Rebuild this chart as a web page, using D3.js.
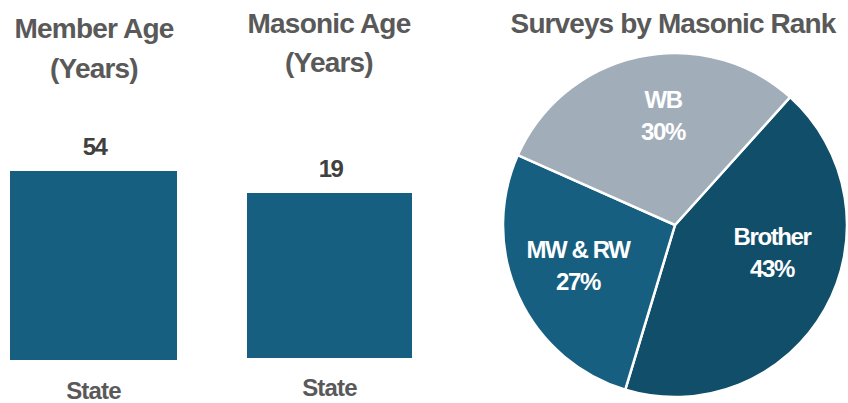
<!DOCTYPE html>
<html><head><meta charset="utf-8">
<script src="https://cdn.jsdelivr.net/npm/d3@7"></script>
<style>
body{margin:0;background:#fff;}
svg{display:block;font-family:"Liberation Sans",Arial,sans-serif;font-weight:bold;}
</style></head>
<body><svg id="c" width="848" height="403"></svg>
<script>
const barTitles = [["Member Age","(Years)"],["Masonic Age","(Years)"]];
const barCategories = ["State"];
const memberAge = [54];
const masonicAge = [19];
const pieTitle = "Surveys by Masonic Rank";
const rankLabels = ["Brother","MW & RW","WB"];
const rankValues = [43,27,30];
const rankColors = ["#114e6a","#175f80","#a1aeb9"];

const svg = d3.select("#c");
const gray = "#595959";

// bar panels
const panels = [
  {vals:memberAge, title:barTitles[0], x0:10, x1:177, top:171, bottom:360, tx:94, ty:[38,78], lab:399, max:54},
  {vals:masonicAge, title:barTitles[1], x0:247, x1:412, top:193, bottom:358, tx:329, ty:[33,72], lab:396, max:19}
];
panels.forEach(p=>{
  const x = d3.scaleBand().domain(barCategories).range([p.x0,p.x1]).padding(0);
  const y = d3.scaleLinear().domain([0,p.max]).range([p.bottom,p.top]);
  const g = svg.append("g");
  g.selectAll("rect").data(p.vals).join("rect")
    .attr("x",(d,i)=>x(barCategories[i])).attr("width",x.bandwidth())
    .attr("y",d=>y(d)).attr("height",d=>p.bottom-y(d)).attr("fill","#175f80");
  g.selectAll("text.v").data(p.vals).join("text").attr("class","v")
    .attr("x",(d,i)=>x(barCategories[i])+x.bandwidth()/2+1).attr("y",d=>y(d)-16)
    .attr("text-anchor","middle").attr("font-size",24).attr("letter-spacing",-1.5).attr("fill","#404040").text(d=>d);
  g.selectAll("text.c").data(barCategories).join("text").attr("class","c")
    .attr("x",d=>x(d)+x.bandwidth()/2).attr("y",p.lab)
    .attr("text-anchor","middle").attr("font-size",24).attr("letter-spacing",-0.8).attr("fill",gray).text(d=>d);
  p.title.forEach((t,i)=>g.append("text").attr("x",p.tx).attr("y",p.ty[i])
    .attr("text-anchor","middle").attr("font-size",28).attr("letter-spacing",-0.8).attr("fill",gray).text(t));
});

// pie
const cx=675, cy=225, r=172;
const start = 42*Math.PI/180;
const pie = d3.pie().sort(null).startAngle(start).endAngle(start+2*Math.PI);
const arcs = pie(rankValues);
const arc = d3.arc().innerRadius(0).outerRadius(r);
const pg = svg.append("g").attr("transform",`translate(${cx},${cy})`);
pg.selectAll("path").data(arcs).join("path").attr("d",arc)
  .attr("fill",(d,i)=>rankColors[i]).attr("stroke","#fff").attr("stroke-width",2.5);
// label placement relative to pie centre: [dx, baseline1, baseline2]
const labelPos = [[97,20,52],[-97,33,65],[-12,-117,-85]];
pg.selectAll("text.l").data(arcs).join("text").attr("class","l")
  .attr("text-anchor","middle").attr("font-size",24).attr("letter-spacing",-1.4).attr("fill","#fff")
  .each(function(d,i){
    const t=d3.select(this), lp=labelPos[i];
    t.append("tspan").attr("x",lp[0]).attr("y",lp[1]).text(rankLabels[i]);
    t.append("tspan").attr("x",lp[0]).attr("y",lp[2]).text(Math.round(d.value)+"%");
  });
svg.append("text").attr("x",673).attr("y",33).attr("text-anchor","middle")
  .attr("font-size",28).attr("letter-spacing",-0.9).attr("fill",gray).text(pieTitle);
</script></body></html>
